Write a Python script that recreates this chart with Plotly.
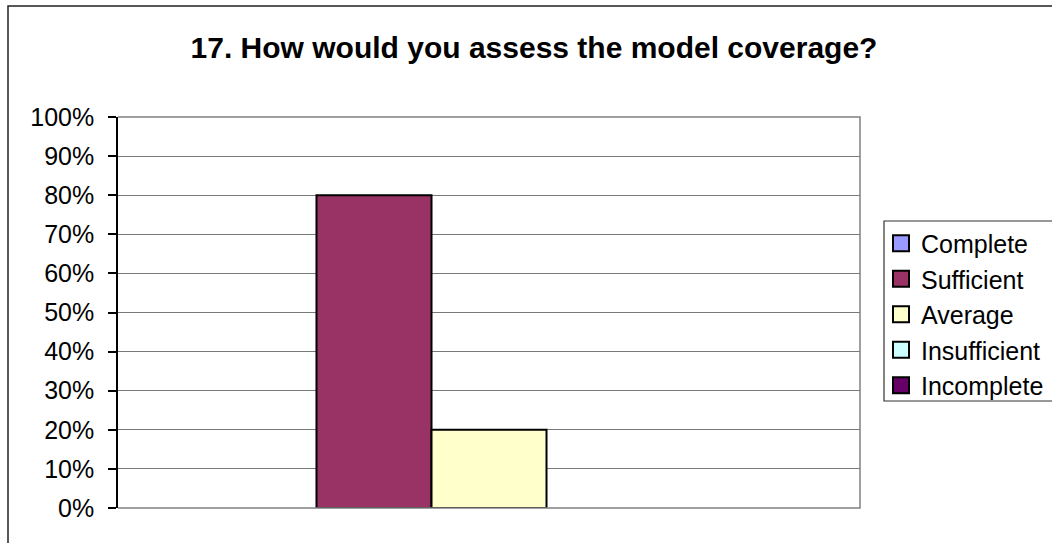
import plotly.graph_objects as go

# Survey responses for question 17 (share of respondents)
categories = ["Complete", "Sufficient", "Average", "Insufficient", "Incomplete"]
shares = [0.0, 0.80, 0.20, 0.0, 0.0]
colors = ["#9999FF", "#993366", "#FFFFCC", "#CCFFFF", "#660066"]
tick_values = [i / 10 for i in range(11)]
tick_labels = [f"{i * 10}%" for i in range(11)]
group_label = [" "]

W, H = 1052, 543
L, R, T, B = 118, 860, 117, 508  # plot area edges in pixels

FONT = "Arial, Liberation Sans, sans-serif"

fig = go.Figure()
for i, (name, val, col) in enumerate(zip(categories, shares, colors)):
    # empty bars get no outline so nothing is drawn along the baseline
    fig.add_trace(go.Bar(
        x=group_label, y=[val], name=name,
        marker=dict(color=col, line=dict(color="black", width=2 if val > 0 else 0)),
        showlegend=False, hoverinfo="skip",
    ))
# legend entries with larger square swatches
for i, (name, col) in enumerate(zip(categories, colors)):
    fig.add_trace(go.Scatter(
        x=[None], y=[None], mode="markers", name=name,
        marker=dict(symbol="square", size=16, color=col,
                    line=dict(color="black", width=2)),
        legendgroup=f"g{i}", hoverinfo="skip",
    ))

def px_x(px):
    return (px - L) / (R - L)

def px_y(py):
    return (B - py) / (B - T)

shapes = [
    # outer chart frame
    dict(type="path", xref="paper", yref="paper",
         path=f"M {px_x(8)},{px_y(545)} L {px_x(8)},{px_y(6)} L {px_x(1060)},{px_y(6)}",
         line=dict(color="#222222", width=1.5)),
    # plot-area border (right, top, bottom)
    dict(type="path", xref="paper", yref="paper",
         path="M 0,1 L 1,1 L 1,0 L 0,0",
         line=dict(color="#808080", width=1.5), layer="above"),
    # legend frame
    dict(type="rect", xref="paper", yref="paper",
         x0=px_x(884), x1=px_x(1070), y0=px_y(221), y1=px_y(401),
         line=dict(color="#333333", width=1.2)),
]

fig.update_layout(
    width=W, height=H,
    margin=dict(l=L, r=W - R, t=T, b=H - B, pad=0),
    paper_bgcolor="white", plot_bgcolor="white",
    font=dict(family=FONT, size=25, color="black"),
    title=dict(text="<b>17. How would you assess the model coverage?</b>",
               x=534 / W, xanchor="center", xref="container",
               y=1 - 47 / H, yanchor="middle", yref="container",
               font=dict(size=30, family=FONT, color="black")),
    barmode="group", bargap=0.225, bargroupgap=0,
    showlegend=True,
    legend=dict(x=881 / W, y=1 - 220.5 / H, xref="container", yref="container",
                xanchor="left", yanchor="top",
                bgcolor="rgba(0,0,0,0)", borderwidth=0,
                font=dict(size=25, family=FONT, color="black"),
                tracegroupgap=0, itemclick=False, itemdoubleclick=False),
    shapes=shapes,
    xaxis=dict(showticklabels=False, ticks="", showgrid=False, zeroline=False,
               showline=False, fixedrange=True),
    yaxis=dict(range=[0, 1], tickvals=tick_values, ticktext=tick_labels,
               showgrid=True, gridcolor="#7a7a7a", gridwidth=1,
               zeroline=False, showline=True, linecolor="black", linewidth=1.5,
               ticks="outside", ticklen=8, tickcolor="black", tickwidth=1.5,
               ticklabelstandoff=9,
               tickfont=dict(size=25, family=FONT, color="black"),
               fixedrange=True),
)

fig.write_html("out.html")
